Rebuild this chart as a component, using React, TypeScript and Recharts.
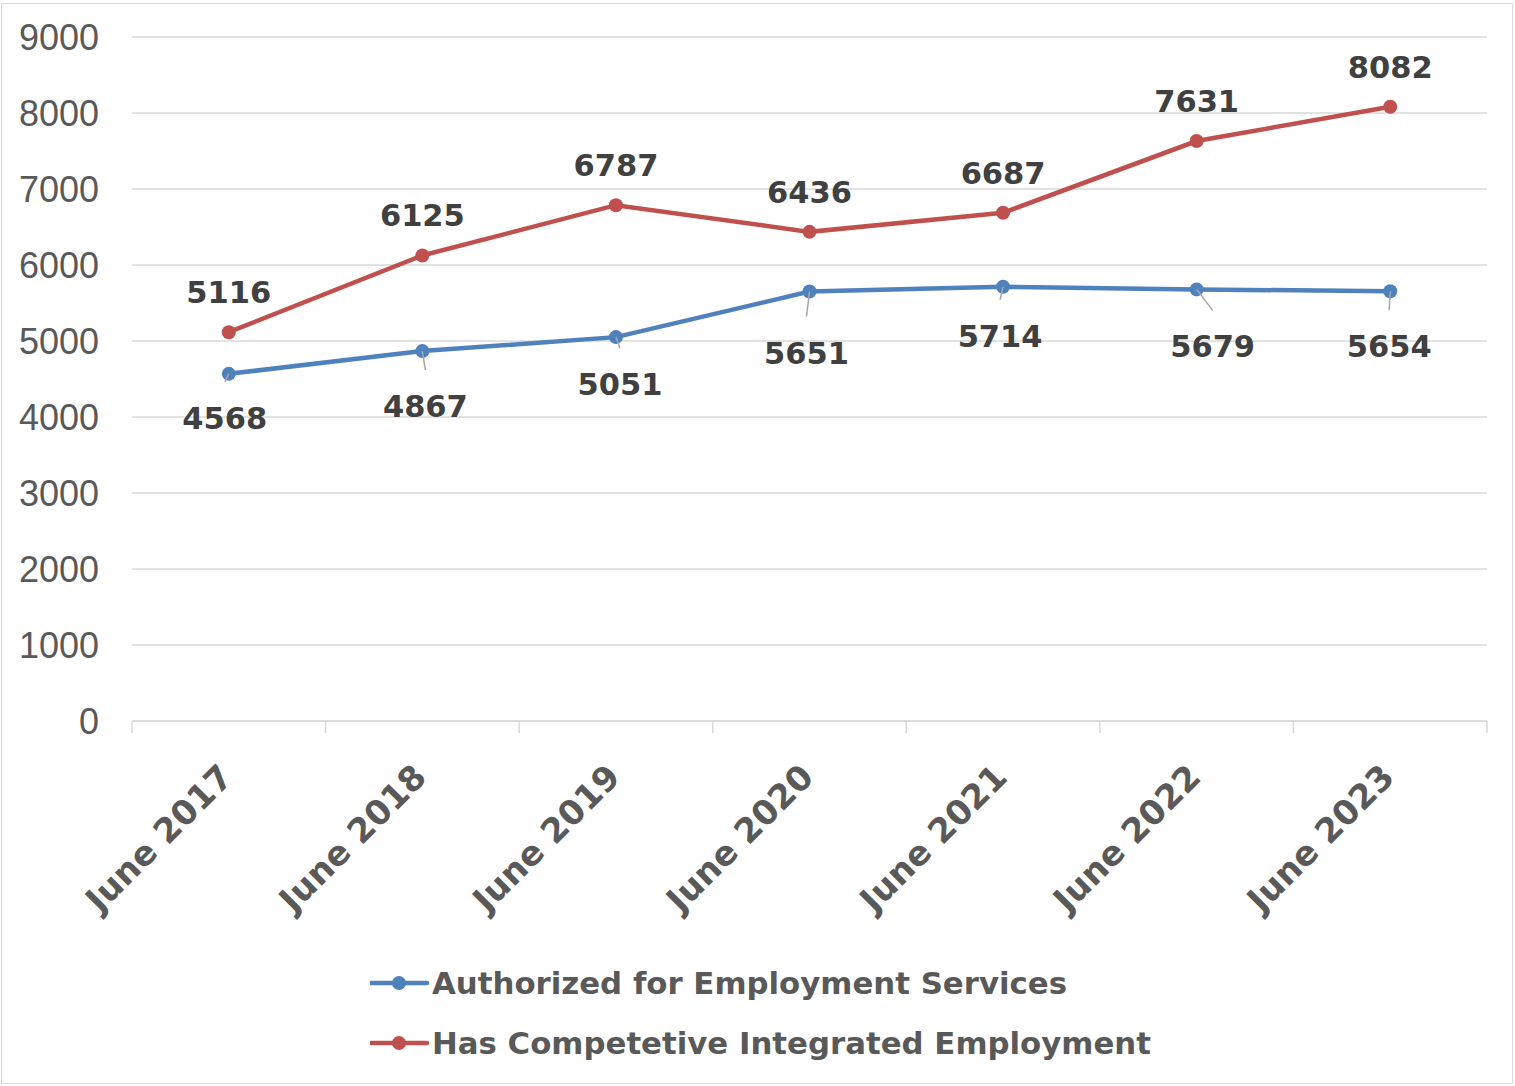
import { LineChart, Line, XAxis, YAxis, CartesianGrid, Legend, LabelList } from "recharts";

const years = ["June 2017", "June 2018", "June 2019", "June 2020", "June 2021", "June 2022", "June 2023"];
const authorized = [4568, 4867, 5051, 5651, 5714, 5679, 5654];
const competitive = [5116, 6125, 6787, 6436, 6687, 7631, 8082];
const yTicks = [0, 1000, 2000, 3000, 4000, 5000, 6000, 7000, 8000, 9000];
const seriesNames = ["Authorized for Employment Services", "Has Competetive Integrated Employment"];
const seriesColors = ["#4f81bd", "#c0504d"];

// the blue labels sit below their points, nudged a bit each (dx, dy)
const blueLabelShift = [[-4, 44], [3, 55], [4, 47], [-3, 61], [-3, 49], [16, 57], [-1, 55]];

const data = years.map((year, i) => ({
  year,
  authorized: authorized[i],
  competitive: competitive[i],
}));

const W = 1515;
const H = 1086;
const plotLeft = 132;
const plotRight = 1487;
const halfBand = (plotRight - plotLeft) / years.length / 2;

const boldFont = "'DejaVu Sans', sans-serif";
const labelColor = "#404040";
const axisColor = "#595959";
const gridColor = "#d9d9d9";

const pointXY = (props: any) => {
  const vb = props.viewBox || {};
  const x = props.x ?? vb.x;
  const y = props.y ?? vb.y;
  return [Number(x), Number(y)];
};

const BlueLabel = (props: any) => {
  const [x, y] = pointXY(props);
  const shift = blueLabelShift[props.index] || [0, 52];
  const lx = x + shift[0];
  const ly = y + shift[1];
  return (
    <g>
      <line x1={x} y1={y} x2={lx} y2={ly - 36} stroke="#a6a6a6" strokeWidth={1.5} />
      <text x={lx} y={ly} dy="0.36em" textAnchor="middle" fontFamily={boldFont} fontWeight="bold" fontSize={30.5} fill={labelColor}>
        {props.value}
      </text>
    </g>
  );
};

const RedLabel = (props: any) => {
  const [x, y] = pointXY(props);
  return (
    <text x={x} y={y - 40} dy="0.36em" textAnchor="middle" fontFamily={boldFont} fontWeight="bold" fontSize={30.5} fill={labelColor}>
      {props.value}
    </text>
  );
};

const YearTick = (props: any) => {
  const { x, y, payload, index } = props;
  const last = index === years.length - 1;
  return (
    <g>
      <line x1={x - halfBand} y1={y} x2={x - halfBand} y2={y + 12} stroke={gridColor} strokeWidth={1.5} />
      {last && <line x1={x + halfBand} y1={y} x2={x + halfBand} y2={y + 12} stroke={gridColor} strokeWidth={1.5} />}
      <text
        x={x + 6}
        y={y + 58}
        textAnchor="end"
        transform={`rotate(-45, ${x + 6}, ${y + 58})`}
        fontFamily={boldFont}
        fontWeight="bold"
        fontSize={34}
        fill={axisColor}
      >
        {payload.value}
      </text>
    </g>
  );
};

const LegendBox = () => (
  <div style={{ position: "relative", width: W, height: 140 }}>
    {seriesNames.map((name, i) => (
      <div
        key={name}
        style={{
          position: "absolute",
          left: 370,
          top: 37 + i * 60 - 20,
          height: 40,
          display: "flex",
          alignItems: "center",
          whiteSpace: "nowrap",
        }}
      >
        <svg width={62} height={20}>
          <line x1={1} y1={10} x2={57} y2={10} stroke={seriesColors[i]} strokeWidth={4.5} strokeLinecap="round" />
          <circle cx={29} cy={10} r={7} fill={seriesColors[i]} />
        </svg>
        <span style={{ fontFamily: boldFont, fontWeight: "bold", fontSize: 30.8, color: axisColor }}>{name}</span>
      </div>
    ))}
  </div>
);

export default function App() {
  return (
    <div style={{ position: "absolute", left: 0, top: 0, width: W, height: H, background: "#fff" }}>
      <div
        style={{
          position: "absolute",
          left: 1,
          top: 3,
          width: 1512,
          height: 1081,
          border: `1.5px solid ${gridColor}`,
          boxSizing: "border-box",
        }}
      />
      <LineChart width={W} height={H} data={data} margin={{ top: 37, right: W - plotRight, left: 0, bottom: 0 }}>
        <CartesianGrid vertical={false} stroke={gridColor} strokeWidth={1.5} />
        <XAxis
          dataKey="year"
          interval={0}
          height={225}
          padding={{ left: halfBand, right: halfBand }}
          axisLine={{ stroke: gridColor, strokeWidth: 1.5 }}
          tickLine={false}
          tickSize={0}
          tickMargin={0}
          tick={<YearTick />}
        />
        <YAxis
          width={plotLeft}
          domain={[0, 9000]}
          ticks={yTicks}
          axisLine={false}
          tickLine={false}
          tickSize={0}
          tickMargin={33}
          tick={{ fontFamily: "'Liberation Sans', Arial, sans-serif", fontSize: 36, fill: axisColor }}
        />
        <Legend
          verticalAlign="bottom"
          height={140}
          content={<LegendBox />}
          wrapperStyle={{ left: 0, width: W, height: 140 }}
        />
        <Line
          dataKey="authorized"
          name={seriesNames[0]}
          stroke={seriesColors[0]}
          strokeWidth={4.5}
          dot={{ r: 7, fill: seriesColors[0], stroke: seriesColors[0], strokeWidth: 0 }}
          activeDot={false}
          isAnimationActive={false}
        >
          <LabelList dataKey="authorized" content={<BlueLabel />} />
        </Line>
        <Line
          dataKey="competitive"
          name={seriesNames[1]}
          stroke={seriesColors[1]}
          strokeWidth={4.5}
          dot={{ r: 7, fill: seriesColors[1], stroke: seriesColors[1], strokeWidth: 0 }}
          activeDot={false}
          isAnimationActive={false}
        >
          <LabelList dataKey="competitive" content={<RedLabel />} />
        </Line>
      </LineChart>
    </div>
  );
}
